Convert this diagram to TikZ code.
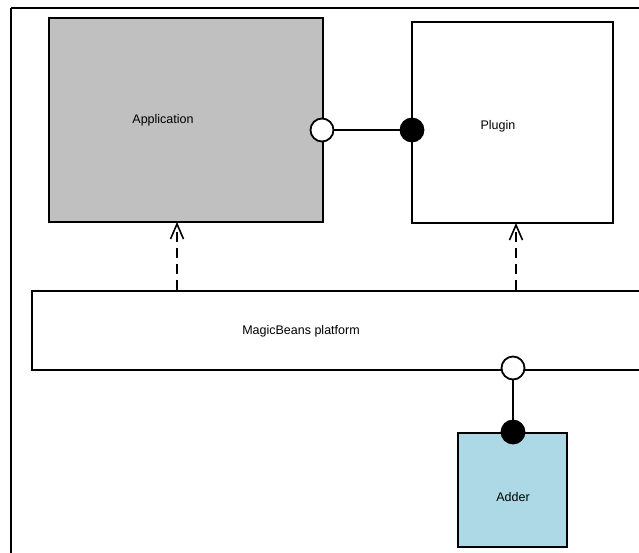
\documentclass[tikz,border=0pt]{standalone}
\usepackage{fontspec}
\setmainfont{Liberation Sans}
\usetikzlibrary{arrows.meta}
\begin{document}
\begin{tikzpicture}[x=1pt,y=-1pt,
  box/.style={draw=black,line width=2pt,inner sep=0pt,anchor=north west},
  lbl/.style={font=\fontsize{12.5}{14}\selectfont,inner sep=0pt},
  sock/.style={circle,draw=black,line width=1.8pt,fill=white,minimum size=23pt,inner sep=0pt},
  plug/.style={circle,draw=black,line width=1.8pt,fill=black,minimum size=23pt,inner sep=0pt},
  wire/.style={line width=1.8pt},
  dep/.style={line width=1.8pt,dash pattern=on 10pt off 6pt,-{Straight Barb[length=15pt,width=13pt,line width=1.6pt]}}]
\useasboundingbox (0,0) rectangle (639,552);
\fill[white] (0,0) rectangle (639,552);
% outer frame, running past the page edges
\draw[line width=2pt] (11,8) -- (700,8) (11,8) -- (11,700);
% components
\node[box,fill={rgb,255:red,192;green,192;blue,192},minimum width=274pt,minimum height=204pt] (app) at (48,17) {};
\node[box,fill=white,minimum width=201pt,minimum height=201pt] (plugin) at (411,21) {};
\node[box,fill=white,minimum width=680pt,minimum height=79pt] (platform) at (31,290) {};
\node[box,fill={rgb,255:red,173;green,216;blue,230},minimum width=109pt,minimum height=114pt] (adder) at (457,432) {};
% labels
\node[lbl] (applbl) at (163,120) {Application};
\node[lbl] (pluglbl) at (498,126) {Plugin};
\node[lbl] (platlbl) at (301,331) {MagicBeans platform};
\node[lbl] (addlbl) at (513,497) {Adder};
% dependencies on the platform
\coordinate (appdep) at (177,290);
\coordinate (append) at (177,222);
\coordinate (plugdep) at (516,290);
\coordinate (plugend) at (516,223);
\draw[dep] (appdep) -- (append);
\draw[dep] (plugdep) -- (plugend);
% plugin interface
\node[sock] (appsock) at (322,130) {};
\node[plug] (plugplug) at (412,130) {};
\draw[wire] (appsock) -- (plugplug);
% adder interface
\node[sock] (platsock) at (513,368) {};
\node[plug] (addplug) at (513,432) {};
\draw[wire] (platsock) -- (addplug);
\end{tikzpicture}
\end{document}
